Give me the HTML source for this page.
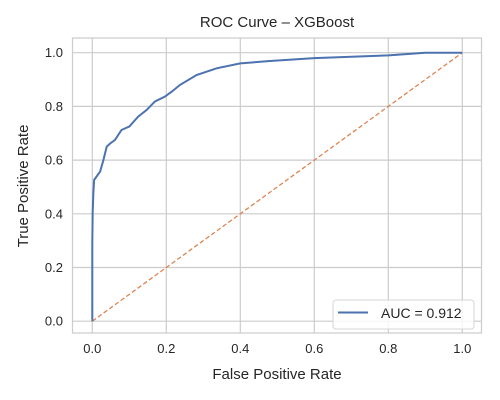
<!DOCTYPE html>
<html><head><meta charset="utf-8"><style>
html,body{margin:0;padding:0;background:#fff;}
svg{display:block;font-family:"Liberation Sans",sans-serif;}
</style></head><body>
<svg id="chart" width="500" height="400">
<rect x="72.5" y="38" width="409" height="295" fill="#fff" stroke="#cccccc" stroke-width="1.2"/>
<g id="grid"></g>
<g id="ticks"></g>
<line id="diag" stroke="#dd8452" stroke-width="1.3" stroke-dasharray="4.5,2.5"/>
<path id="roc" fill="none" stroke="#4c72b0" stroke-width="2"/>
<text x="277" y="27" font-size="15" text-anchor="middle" fill="#262626">ROC Curve – XGBoost</text>
<text x="277" y="379" font-size="15" text-anchor="middle" fill="#262626">False Positive Rate</text>
<text x="0" y="0" font-size="15" text-anchor="middle" fill="#262626" transform="translate(28,186) rotate(-90)">True Positive Rate</text>
<g>
<rect x="333" y="300" width="141" height="29" rx="3" fill="#fff" fill-opacity="0.8" stroke="#d6d6d6"/>
<line x1="338" y1="312.5" x2="368" y2="312.5" stroke="#4c72b0" stroke-width="2"/>
<text x="381" y="318" font-size="14" fill="#262626">AUC = 0.912</text>
</g>
</svg>
<script>
const fpr=[0,0,0.001,0.003,0.005,0.021,0.03,0.039,0.048,0.061,0.079,0.10,0.124,0.147,0.169,0.196,0.215,0.237,0.282,0.336,0.40,0.48,0.6,0.8,0.9,1.0];
const tpr=[0,0.29,0.41,0.48,0.526,0.557,0.60,0.65,0.662,0.675,0.712,0.725,0.762,0.787,0.818,0.836,0.855,0.88,0.917,0.942,0.96,0.969,0.98,0.99,1.0,1.0];
const ticks=[0,0.2,0.4,0.6,0.8,1.0];
const tickLabels=["0.0","0.2","0.4","0.6","0.8","1.0"];
const sx=v=>92.3+v*370;
const sy=v=>321.2-v*268.5;
const NS="http://www.w3.org/2000/svg";
const g=document.getElementById('grid'),t=document.getElementById('ticks');
ticks.forEach((v,i)=>{
 let l=document.createElementNS(NS,'line');
 l.setAttribute('x1',sx(v));l.setAttribute('x2',sx(v));l.setAttribute('y1',38);l.setAttribute('y2',333);
 l.setAttribute('stroke','#cccccc');l.setAttribute('stroke-width','1.2');
 
 
 g.appendChild(l);
 let m=document.createElementNS(NS,'line');
 m.setAttribute('y1',sy(v));m.setAttribute('y2',sy(v));m.setAttribute('x1',72.5);m.setAttribute('x2',481.5);
 m.setAttribute('stroke','#cccccc');m.setAttribute('stroke-width','1.2');
 
 
 g.appendChild(m);
 let a=document.createElementNS(NS,'text');
 a.setAttribute('x',sx(v));a.setAttribute('y',353);a.setAttribute('font-size','13');a.setAttribute('text-anchor','middle');a.setAttribute('fill','#262626');
 a.textContent=tickLabels[i];
 
 
 t.appendChild(a);
 let b=document.createElementNS(NS,'text');
 b.setAttribute('x',63);b.setAttribute('y',sy(v)+4.5);b.setAttribute('font-size','13');b.setAttribute('text-anchor','end');b.setAttribute('fill','#262626');
 b.textContent=tickLabels[i];
 
 
 t.appendChild(b);
});
const d=document.getElementById('diag');
d.setAttribute('x1',sx(0));d.setAttribute('y1',sy(0));d.setAttribute('x2',sx(1));d.setAttribute('y2',sy(1));
document.getElementById('roc').setAttribute('d',fpr.map((x,i)=>(i?'L':'M')+sx(x).toFixed(1)+','+sy(tpr[i]).toFixed(1)).join(''));
</script>
</body></html>
